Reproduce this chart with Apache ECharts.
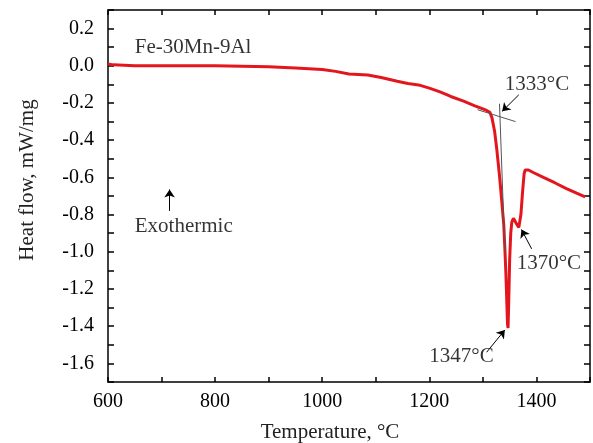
<!DOCTYPE html>
<html>
<head>
<meta charset="utf-8">
<script src="https://cdn.jsdelivr.net/npm/echarts@6/dist/echarts.min.js"></script>
<style>
  html, body { margin: 0; padding: 0; background: #fff; }
  #chart { width: 593px; height: 443px; }
</style>
</head>
<body>
<div id="chart"></div>
<script>
// DSC curve, Fe-30Mn-9Al
var temps = [600, 610, 650, 700, 750, 800, 850, 900, 950, 1000, 1025, 1050, 1085, 1110, 1140,
  1160, 1183, 1200, 1220, 1240, 1264, 1285, 1300, 1307, 1313, 1317, 1322, 1326, 1331, 1335,
  1339, 1341, 1343, 1345, 1346, 1347, 1348, 1350, 1352, 1354, 1357, 1360, 1363, 1365, 1367,
  1369, 1371, 1374, 1377, 1379, 1381, 1385, 1395, 1413, 1435, 1456, 1475, 1491];
var heatFlow = [0.01, 0.005, 0.0, 0.0, 0.0, 0.0, -0.002, -0.005, -0.012, -0.02, -0.03, -0.044, -0.05, -0.063, -0.083,
  -0.095, -0.105, -0.12, -0.14, -0.165, -0.19, -0.215, -0.232, -0.24, -0.25, -0.28, -0.355, -0.45, -0.59, -0.72,
  -0.855, -0.98, -1.12, -1.3, -1.39, -1.41, -1.3, -1.04, -0.9, -0.84, -0.82, -0.83, -0.85, -0.86, -0.87,
  -0.86, -0.8, -0.68, -0.58, -0.56, -0.555, -0.56, -0.575, -0.6, -0.63, -0.66, -0.685, -0.705];

// tangent lines for onset (1333)
var tangentLines = [
  [[1290, -0.236], [1361, -0.30]],
  [[1331, -0.204], [1341, -1.0]]
];
// annotation arrows [from, to]
var arrows = [
  [[715, -0.78], [715, -0.665]],
  [[1367, -0.156], [1336, -0.245]],
  [[1391, -0.984], [1372, -0.88]],
  [[1307, -1.54], [1341, -1.42]]
];
// text labels [x, y, text] (left edge, middle)
var notes = [
  [650, 0.10, 'Fe-30Mn-9Al'],
  [650, -0.866, 'Exothermic'],
  [1341, -0.10, '1333°C'],
  [1363, -1.065, '1370°C'],
  [1200, -1.565, '1347°C']
];

var serif = '"Liberation Serif", "Times New Roman", serif';

var chart = echarts.init(document.getElementById('chart'));

function xAxisCfg(pos, show) {
  return {
    type: 'value',
    position: pos,
    min: 600,
    max: 1500,
    interval: 100,
    axisLine: { show: true, onZero: false, lineStyle: { color: '#000', width: 1.5 } },
    axisTick: { show: true, inside: true, length: 5, lineStyle: { color: '#000', width: 1.5 } },
    axisLabel: {
      show: show,
      margin: 10,
      color: '#000',
      fontFamily: serif,
      fontSize: 20,
      formatter: function (v) { return (Math.round(v) % 200 === 0 && v < 1500) ? String(v) : ''; }
    },
    splitLine: { show: false }
  };
}

function yAxisCfg(pos, show) {
  return {
    type: 'value',
    position: pos,
    min: -1.7,
    max: 0.3,
    interval: 0.1,
    axisLine: { show: true, onZero: false, lineStyle: { color: '#000', width: 1.5 } },
    axisTick: { show: true, inside: true, length: 6, lineStyle: { color: '#000', width: 1.5 } },
    axisLabel: {
      show: show,
      margin: 14,
      color: '#000',
      fontFamily: serif,
      fontSize: 20,
      formatter: function (v) {
        var t = Math.round(v * 10);
        if (t % 2 !== 0) return '';
        return (t / 10).toFixed(1);
      }
    },
    splitLine: { show: false }
  };
}

var option = {
  animation: false,
  backgroundColor: '#fff',
  grid: { left: 108, right: 1, top: 10, bottom: 61 },
  xAxis: [xAxisCfg('bottom', true), xAxisCfg('top', false)],
  yAxis: [yAxisCfg('left', true), yAxisCfg('right', false)],
  graphic: [
    {
      type: 'text',
      x: 330, y: 432,
      style: {
        text: 'Temperature, °C',
        fill: '#222',
        font: '21px ' + serif,
        align: 'center',
        verticalAlign: 'middle'
      }
    },
    {
      type: 'text',
      x: 27, y: 180,
      rotation: Math.PI / 2,
      style: {
        text: 'Heat flow, mW/mg',
        fill: '#222',
        font: '21px ' + serif,
        align: 'center',
        verticalAlign: 'middle'
      }
    }
  ],
  series: [
    {
      type: 'line',
      data: temps.map(function (t, i) { return [t, heatFlow[i]]; }),
      showSymbol: false,
      smooth: false,
      lineStyle: { color: '#e4161d', width: 3 },
      z: 3
    },
    {
      type: 'lines',
      coordinateSystem: 'cartesian2d',
      data: tangentLines.map(function (c) { return { coords: c }; }),
      symbol: 'none',
      lineStyle: { color: '#555', width: 1, opacity: 1 },
      z: 4
    },
    {
      type: 'lines',
      coordinateSystem: 'cartesian2d',
      data: arrows.map(function (c) { return { coords: c }; }),
      symbol: ['none', 'arrow'],
      symbolSize: [0, 8],
      lineStyle: { color: '#000', width: 1, opacity: 1 },
      z: 5
    },
    {
      type: 'scatter',
      data: notes.map(function (n) { return { value: [n[0], n[1]], name: n[2] }; }),
      symbolSize: 0,
      silent: true,
      label: {
        show: true,
        position: 'right',
        distance: 0,
        formatter: function (p) { return p.name; },
        color: '#000',
        fontFamily: serif,
        fontSize: 21,
        align: 'left',
        verticalAlign: 'middle'
      },
      z: 6
    }
  ]
};

chart.setOption(option);
</script>
</body>
</html>
